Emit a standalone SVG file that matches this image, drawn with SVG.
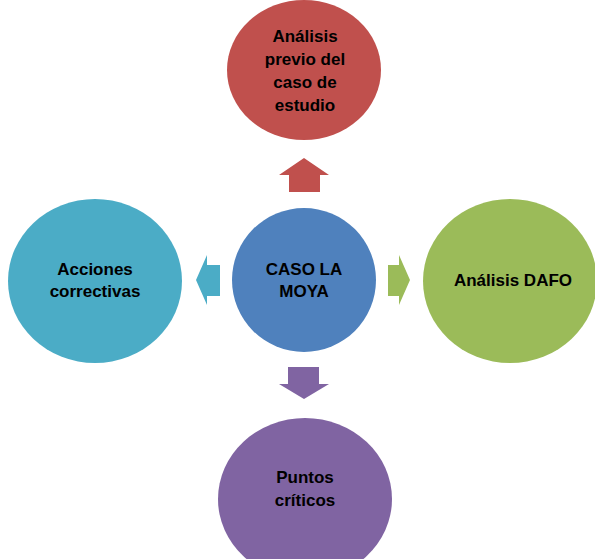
<svg xmlns="http://www.w3.org/2000/svg" width="595" height="559" viewBox="0 0 595 559">
<style>
.t{font-family:"Liberation Sans",Arial,sans-serif;font-weight:bold;font-size:17px;fill:#000;text-anchor:middle}
</style>
<rect width="595" height="559" fill="#fff"/>
<g id="connectors">
<path d="M289,192 V175 H279 L304,158 L329,175 H320 V192 Z" fill="#C0504D"/>
<path d="M388,265 H399 V255 L410,280 L399,305 V296 H388 Z" fill="#9BBB59"/>
<path d="M288,367 H319 V384 H329 L304,399 L279,384 H288 Z" fill="#8064A2"/>
<path d="M220,265 H207 V255 L196,280 L207,305 V296 H220 Z" fill="#4BACC6"/>
</g>
<g id="center">
<circle cx="304" cy="280" r="72" fill="#4F81BD"/>
<text class="t" x="304" y="275">CASO LA</text>
<text class="t" x="304" y="297">MOYA</text>
</g>
<g id="top">
<ellipse cx="304" cy="70" rx="77" ry="70" fill="#C0504D"/>
<text class="t" x="305" y="42">Análisis</text>
<text class="t" x="305" y="65">previo del</text>
<text class="t" x="305" y="88">caso de</text>
<text class="t" x="305" y="111">estudio</text>
</g>
<g id="right">
<ellipse cx="510" cy="281" rx="87" ry="82" fill="#9BBB59"/>
<text class="t" x="513" y="286">Análisis DAFO</text>
</g>
<g id="bottom">
<ellipse cx="305" cy="499" rx="87" ry="81" fill="#8064A2"/>
<text class="t" x="305" y="483">Puntos</text>
<text class="t" x="305" y="506">críticos</text>
</g>
<g id="left">
<ellipse cx="95" cy="281" rx="87" ry="82" fill="#4BACC6"/>
<text class="t" x="95" y="275">Acciones</text>
<text class="t" x="95" y="297">correctivas</text>
</g>
</svg>
